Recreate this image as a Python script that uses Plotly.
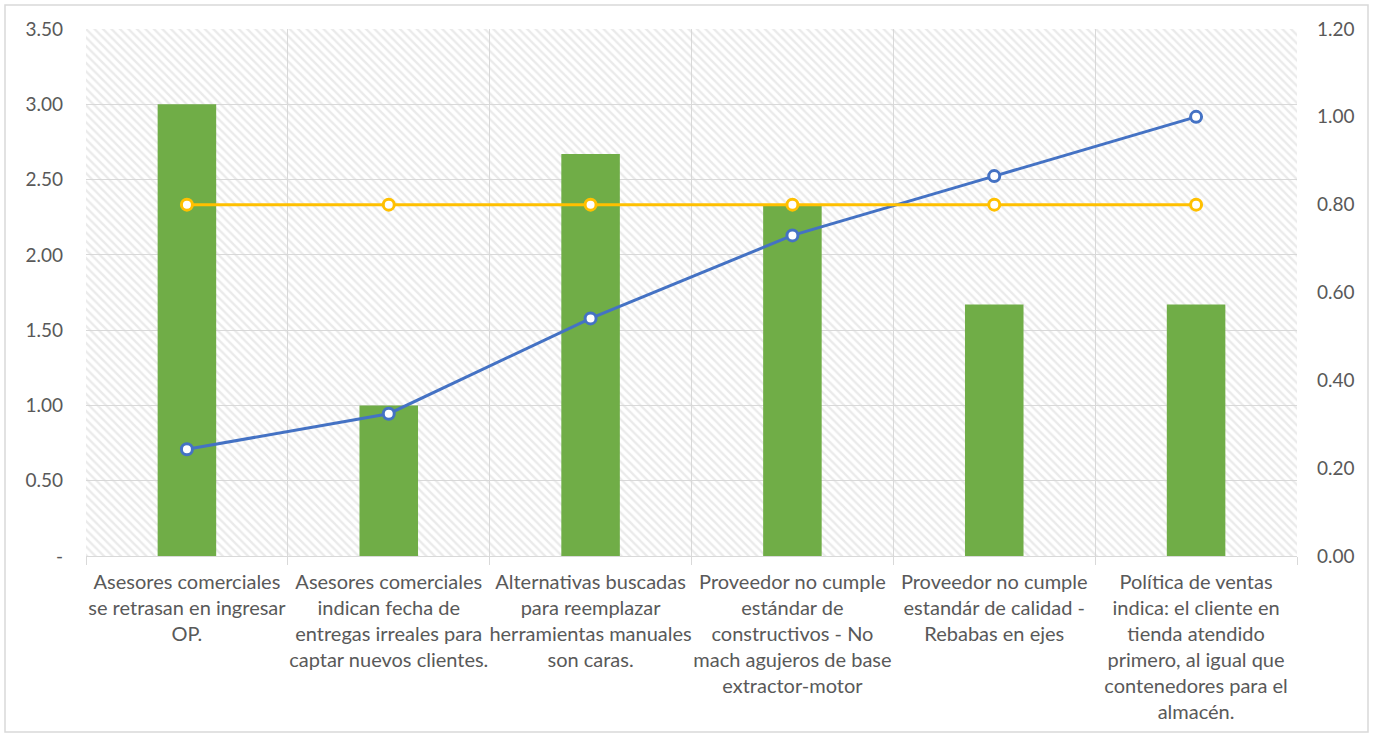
import plotly.graph_objects as go

# Causas (eje de categorías)
categorias = [
    "Asesores comerciales<br>se retrasan en ingresar<br>OP.",
    "Asesores comerciales<br>indican fecha de<br>entregas irreales para<br>captar nuevos clientes.",
    "Alternativas buscadas<br>para reemplazar<br>herramientas manuales<br>son caras.",
    "Proveedor no cumple<br>estándar de<br>constructivos - No<br>mach agujeros de base<br>extractor-motor",
    "Proveedor no cumple<br>estandár de calidad -<br>Rebabas en ejes",
    "Política de ventas<br>indica: el cliente en<br>tienda atendido<br>primero, al igual que<br>contenedores para el<br>almacén.",
]

# Puntaje de cada causa (eje izquierdo)
puntaje = [3.00, 1.00, 2.67, 2.33, 1.67, 1.67]

# Porcentaje acumulado (eje derecho)
acumulado = [0.243, 0.324, 0.541, 0.730, 0.865, 1.000]

# Línea de corte 80 %
corte = [0.80, 0.80, 0.80, 0.80, 0.80, 0.80]

# Marcas de los ejes
ticks_izq = [0, 0.5, 1.0, 1.5, 2.0, 2.5, 3.0, 3.5]
texto_izq = ["-", "0.50", "1.00", "1.50", "2.00", "2.50", "3.00", "3.50"]
ticks_der = [0, 0.2, 0.4, 0.6, 0.8, 1.0, 1.2]
texto_der = ["0.00", "0.20", "0.40", "0.60", "0.80", "1.00", "1.20"]

GRIS_TXT = "#595959"
GRIS_LIN = "#d9d9d9"
FAMILIA = "Lato, 'Open Sans', sans-serif"
FUENTE_Y = dict(family=FAMILIA, size=19, color=GRIS_TXT)
FUENTE_X = dict(family=FAMILIA, size=20, color=GRIS_TXT)

fig = go.Figure()

# Fondo rayado del área de trazado
fig.add_trace(go.Bar(
    x=[0.5], y=[1], width=[1], xaxis="x", yaxis="y",
    marker=dict(color="rgba(0,0,0,0)", line=dict(width=0),
                pattern=dict(shape="\\", size=6, solidity=0.4,
                             fgcolor="#d6d6d6", bgcolor="rgba(0,0,0,0)")),
    hoverinfo="skip", showlegend=False,
))

# Barras de puntaje
fig.add_trace(go.Bar(
    x=categorias, y=puntaje, xaxis="x2", yaxis="y2",
    width=0.29, marker=dict(color="#70AD47", line=dict(width=0)),
    showlegend=False,
))

# Porcentaje acumulado
fig.add_trace(go.Scatter(
    x=categorias, y=acumulado, xaxis="x2", yaxis="y3",
    mode="lines+markers",
    line=dict(color="#4472C4", width=3),
    marker=dict(symbol="circle", size=11, color="white",
                line=dict(color="#4472C4", width=3)),
    showlegend=False,
))

# Línea del 80 %
fig.add_trace(go.Scatter(
    x=categorias, y=corte, xaxis="x2", yaxis="y3",
    mode="lines+markers",
    line=dict(color="#FFC000", width=3),
    marker=dict(symbol="circle", size=11, color="white",
                line=dict(color="#FFC000", width=3)),
    showlegend=False,
))

fig.update_layout(
    width=1375, height=734,
    margin=dict(l=86, r=78, t=29, b=178),
    paper_bgcolor="white", plot_bgcolor="white",
    font=FUENTE_Y,
    barmode="overlay",
    xaxis=dict(range=[0, 1], visible=False, fixedrange=True),
    yaxis=dict(range=[0, 1], visible=False, fixedrange=True),
    xaxis2=dict(
        overlaying="x", side="bottom", type="category",
        tickson="boundaries", ticks="outside", ticklen=8, tickcolor=GRIS_LIN,
        showgrid=True, gridcolor=GRIS_LIN, gridwidth=1,
        showline=True, linecolor=GRIS_LIN, linewidth=1,
        tickfont=FUENTE_X, tickangle=0, ticklabelstandoff=8,
    ),
    yaxis2=dict(
        overlaying="y", side="left", range=[0, 3.5],
        tickvals=ticks_izq, ticktext=texto_izq,
        showgrid=True, gridcolor=GRIS_LIN, gridwidth=1,
        zeroline=False, showline=False, ticks="",
        ticklabelstandoff=22, tickfont=FUENTE_Y,
    ),
    yaxis3=dict(
        overlaying="y", side="right", range=[0, 1.2],
        tickvals=ticks_der, ticktext=texto_der,
        showgrid=False, zeroline=False, showline=False, ticks="",
        ticklabelstandoff=19, tickfont=FUENTE_Y,
    ),
)

# Marco exterior del gráfico
fig.add_shape(
    type="rect", xref="paper", yref="paper",
    x0=(5 - 86) / 1211, x1=(1368 - 86) / 1211,
    y0=(556 - 732) / 527, y1=1 + (29 - 5) / 527,
    line=dict(color=GRIS_LIN, width=1.5), fillcolor="rgba(0,0,0,0)",
    layer="below",
)

fig.write_html("out.html")
